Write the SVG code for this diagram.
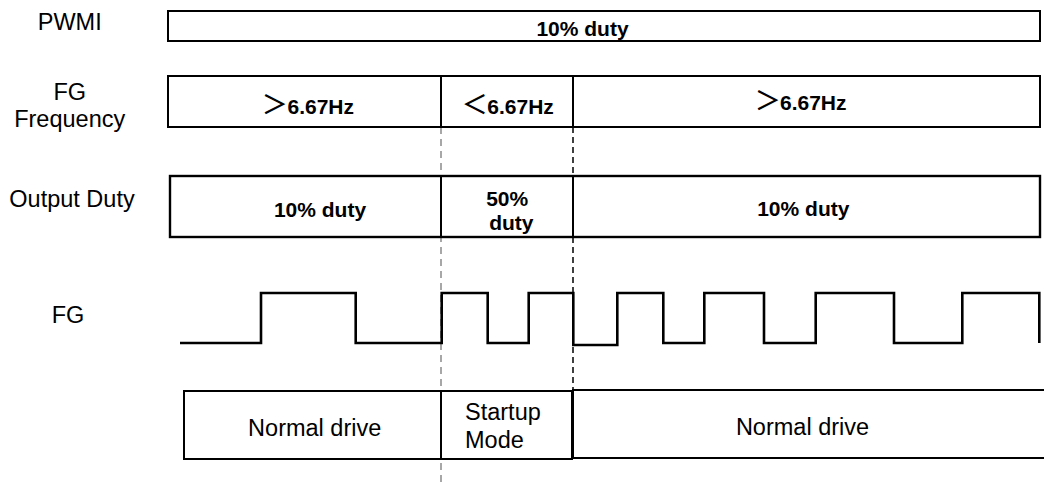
<svg xmlns="http://www.w3.org/2000/svg" width="1044" height="484" viewBox="0 0 1044 484">
<style>
.lbl{font-family:"Liberation Sans",Arial,sans-serif;font-size:23.5px;fill:#000}
.b{font-family:"Liberation Sans",Arial,sans-serif;font-size:21px;font-weight:bold;fill:#000}
.sym{font-family:"Noto Sans CJK SC",sans-serif;font-weight:500;font-size:26px}
.box{fill:#fff;stroke:#000;stroke-width:2}
.ln{fill:none;stroke:#000;stroke-width:2}
.wave{fill:none;stroke:#000;stroke-width:2.6}
.dg{stroke:#8a8a8a;stroke-width:1.5;stroke-dasharray:7 5;fill:none}
.dk{stroke:#000;stroke-width:1.5;stroke-dasharray:6 4;fill:none}
</style>
<rect width="1044" height="484" fill="#fff"/>
<g id="connectors">
<line class="dg" x1="441" y1="127" x2="441" y2="484"/>
<line class="dk" x1="573" y1="127" x2="573" y2="459"/>
</g>
<g id="labels">
<g id="label-pwmi"><text class="lbl" x="69.7" y="30" text-anchor="middle">PWMI</text></g>
<g id="label-fgfreq"><text class="lbl" text-anchor="middle"><tspan x="69.7" y="100">FG</tspan><tspan x="69.7" y="127">Frequency</tspan></text></g>
<g id="label-output"><text class="lbl" x="72" y="207" text-anchor="middle">Output Duty</text></g>
<g id="label-fg"><text class="lbl" x="68" y="323" text-anchor="middle">FG</text></g>
</g>
<g id="pwmi-row">
<rect class="box" x="168" y="11" width="872" height="30"/>
<text class="b" x="582.5" y="36" text-anchor="middle">10% duty</text>
</g>
<g id="fgfreq-row">
<rect class="box" x="168" y="76" width="872" height="51"/>
<line class="ln" x1="441" y1="76" x2="441" y2="127"/>
<line class="ln" x1="573" y1="76" x2="573" y2="127"/>
<text class="b" y="113.8"><tspan class="sym" x="274.7" text-anchor="middle">＞</tspan><tspan x="287.5">6.67Hz</tspan></text>
<text class="b" y="113.8"><tspan class="sym" x="474.7" text-anchor="middle">＜</tspan><tspan x="487.3">6.67Hz</tspan></text>
<text class="b" y="109.5"><tspan class="sym" x="767.7" text-anchor="middle">＞</tspan><tspan x="780">6.67Hz</tspan></text>
</g>
<g id="output-row">
<rect class="box" x="170" y="176" width="870" height="61" style="stroke-width:2.4"/>
<line class="ln" x1="441" y1="176" x2="441" y2="237"/>
<line class="ln" x1="573" y1="176" x2="573" y2="237"/>
<text class="b" x="320" y="216.5" text-anchor="middle">10% duty</text>
<text class="b" text-anchor="middle"><tspan x="507.2" y="205.7">50%</tspan><tspan x="511.3" y="229.5">duty</tspan></text>
<text class="b" x="803.3" y="216" text-anchor="middle">10% duty</text>
</g>
<g id="fg-wave">
<path class="wave" d="M180,343 H261 V293 H355.7 V343 H441.7 V293 H487.7 V343 H528.7 V293 H573.3 V345 H617.3 V293 H663.3 V343 H704.3 V293 H764 V343 H815.7 V293 H894 V343 H962.3 V293 H1039.3 V343"/>
</g>
<g id="mode-row">
<rect class="box" x="184" y="391" width="388" height="68"/>
<line class="ln" x1="441" y1="391" x2="441" y2="459"/>
<path class="ln" d="M1044,390 H573 V458 H1044"/>
<text class="lbl" x="314.7" y="436" text-anchor="middle">Normal drive</text>
<text class="lbl"><tspan x="465" y="420">Startup</tspan><tspan x="465" y="448">Mode</tspan></text>
<text class="lbl" x="802.5" y="435" text-anchor="middle">Normal drive</text>
</g>
</svg>
